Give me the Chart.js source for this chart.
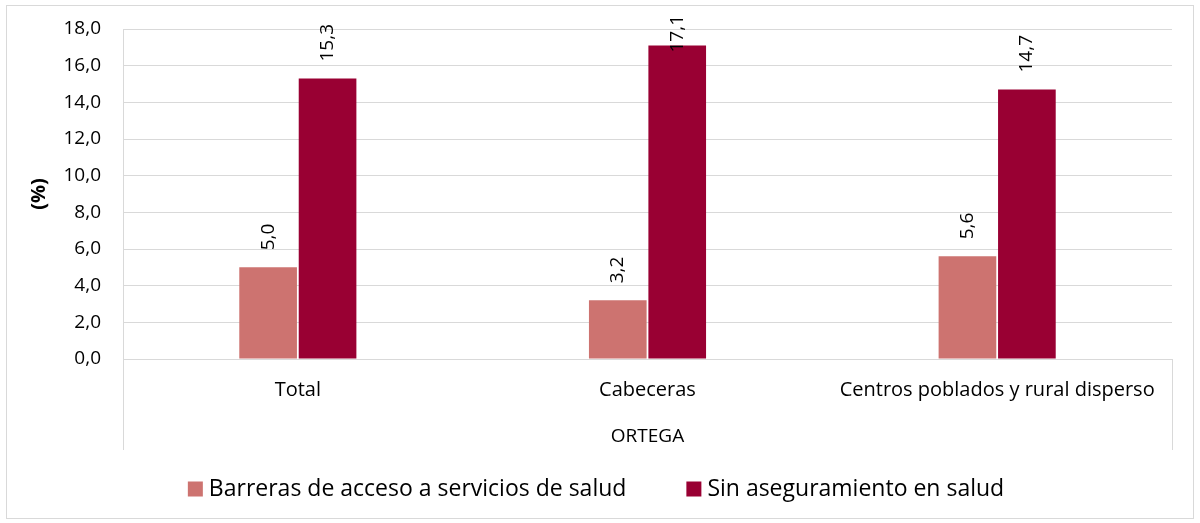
<!DOCTYPE html>
<html lang="es">
<head>
<meta charset="UTF-8">
<title>ORTEGA - Salud</title>
<script src="https://cdn.jsdelivr.net/npm/chart.js"></script>
<style>
    html, body { margin: 0; padding: 0; background: #fff; }
    .wrap { width: 1200px; height: 523px; }
</style>
</head>
<body>
<div class="wrap"><canvas id="chart" width="1200" height="523"></canvas></div>
<script>
    // Datos
    const categories = ['Total', 'Cabeceras', 'Centros poblados y rural disperso'];
    const groupLabel = 'ORTEGA';
    const barreras = [5.0, 3.2, 5.6];
    const sinAseguramiento = [15.3, 17.1, 14.7];
    const seriesNames = ['Barreras de acceso a servicios de salud', 'Sin aseguramiento en salud'];
    const seriesColors = ['#CD7370', '#990033'];

    const FONT = "'Open Sans', 'Noto Sans', sans-serif";
    const fmt = v => Number(v).toFixed(1).replace('.', ',');

    // etiquetas de valor, bordes, grupo ORTEGA y leyenda
    const extras = {
        id: 'extras',
        afterDatasetsDraw(chart) {
            const ctx = chart.ctx;
            ctx.save();
            ctx.font = '19px ' + FONT;
            ctx.fillStyle = '#000';
            ctx.textAlign = 'left';
            ctx.textBaseline = 'middle';
            chart.data.datasets.forEach((ds, i) => {
                chart.getDatasetMeta(i).data.forEach((bar, j) => {
                    const txt = fmt(ds.data[j]);
                    const w = ctx.measureText(txt).width;
                    const start = Math.max(bar.y - 17, 15 + w);
                    ctx.save();
                    ctx.translate(bar.x, start);
                    ctx.rotate(-Math.PI / 2);
                    ctx.fillText(txt, 0, 0);
                    ctx.restore();
                });
            });
            ctx.restore();
        },
        afterDraw(chart) {
            const ctx = chart.ctx;
            const a = chart.chartArea;
            const lowY = a.bottom + 91;
            ctx.save();
            ctx.strokeStyle = '#d9d9d9';
            ctx.lineWidth = 1;
            ctx.beginPath();
            ctx.moveTo(a.left + 0.5, a.bottom);
            ctx.lineTo(a.left + 0.5, lowY);
            ctx.moveTo(a.right + 0.5, a.bottom);
            ctx.lineTo(a.right + 0.5, lowY);
            ctx.stroke();
            ctx.strokeRect(6.5, 5.5, 1187, 513);

            ctx.font = '19px ' + FONT;
            ctx.fillStyle = '#000';
            ctx.textAlign = 'center';
            ctx.textBaseline = 'middle';
            ctx.fillText(groupLabel, (a.left + a.right) / 2, a.bottom + 78);

            // leyenda
            ctx.font = '23px ' + FONT;
            ctx.textAlign = 'left';
            const box = 15, gap = 6, itemGap = 60;
            const items = chart.data.datasets.map(ds => ({ label: ds.label, color: ds.backgroundColor, w: ctx.measureText(ds.label).width }));
            const total = items.reduce((s, it) => s + box + gap + it.w, 0) + itemGap * (items.length - 1);
            let x = chart.width / 2 - 4 - total / 2;
            const y = lowY + 39;
            items.forEach(it => {
                ctx.fillStyle = it.color;
                ctx.fillRect(x, y - box / 2, box, box);
                ctx.fillStyle = '#000';
                ctx.fillText(it.label, x + box + gap, y);
                x += box + gap + it.w + itemGap;
            });
            ctx.restore();
        }
    };

    new Chart(document.getElementById('chart'), {
        type: 'bar',
        data: {
            labels: categories,
            datasets: [{
                label: seriesNames[0],
                data: barreras,
                backgroundColor: seriesColors[0],
                categoryPercentage: 0.34,
                barPercentage: 0.97
            }, {
                label: seriesNames[1],
                data: sinAseguramiento,
                backgroundColor: seriesColors[1],
                categoryPercentage: 0.34,
                barPercentage: 0.97
            }]
        },
        options: {
            responsive: false,
            animation: false,
            layout: { padding: { top: 29, right: 28, left: 14, bottom: 73 } },
            plugins: {
                tooltip: { enabled: false },
                legend: { display: false }
            },
            scales: {
                x: {
                    grid: { display: false },
                    border: { display: true, color: '#d9d9d9' },
                    ticks: { font: { family: FONT, size: 20 }, color: '#000', padding: 11 },
                    afterFit(s) { s.height = 91; }
                },
                y: {
                    min: 0,
                    max: 18,
                    ticks: {
                        stepSize: 2,
                        font: { family: FONT, size: 19 },
                        color: '#000',
                        padding: 22,
                        callback: v => fmt(v)
                    },
                    grid: { color: '#d9d9d9', drawTicks: false },
                    border: { color: '#d9d9d9' },
                    title: { display: true, text: '(%)', font: { family: FONT, size: 20, weight: 'bold' }, color: '#000', padding: { top: 13, bottom: 0 } },
                    afterFit(s) { s.width = 109; s.paddingTop = 0; s.paddingBottom = 0; }
                }
            }
        },
        plugins: [extras]
    });
</script>
</body>
</html>
